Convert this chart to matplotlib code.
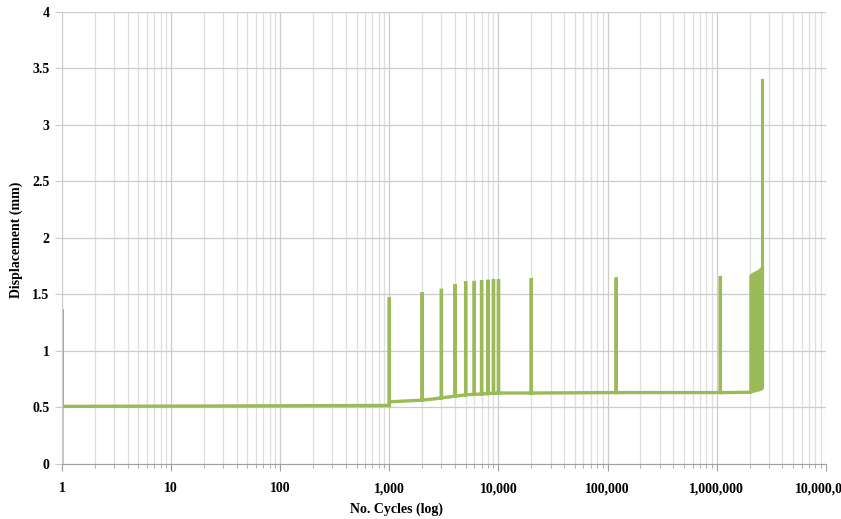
import matplotlib.pyplot as plt
import matplotlib.ticker as mticker
import numpy as np

plt.rcParams['font.family'] = 'Liberation Serif'

# baseline displacement between load blocks
base_cycles = [1, 10, 100, 1000, 1000, 2000, 2500, 3000, 4000, 5000, 7000, 10000, 20000,
               120000, 1080000, 2010000]
base_disp = [0.51, 0.512, 0.515, 0.518, 0.55, 0.565, 0.575, 0.585, 0.60, 0.612, 0.62, 0.628,
             0.628, 0.632, 0.632, 0.634]

# overload spikes
spike_cycles = [1000, 2000, 3000, 4000, 5000, 6000, 7000, 8000, 9000, 10000, 20000,
                120000, 1080000]
spike_disp = [1.475, 1.52, 1.55, 1.59, 1.615, 1.62, 1.625, 1.63, 1.635, 1.635, 1.645,
              1.65, 1.664]

# dense cycling band near failure
band_cycles = [2010000, 2100000, 2200000, 2300000, 2400000, 2500000, 2580000, 2630000]
band_low = [0.634, 0.64, 0.645, 0.65, 0.655, 0.66, 0.665, 0.675]
band_high = [1.67, 1.685, 1.695, 1.705, 1.715, 1.73, 1.745, 1.76]

# first cycle and failure
first_disp = [0.0, 1.37]
fail_cycle = 2580000
fail_disp = 3.40

green = '#9bbb59'

# build the trace: baseline with spikes up and back down
spikes = dict(zip(spike_cycles, spike_disp))
bx = np.log10(np.array(base_cycles, dtype=float))
by = np.array(base_disp)
trace_x = [1, 1]
trace_y = list(first_disp)
for c in sorted(set(base_cycles) | set(spike_cycles)):
    vals = [d for b, d in zip(base_cycles, base_disp) if b == c]
    if not vals:
        vals = [float(np.interp(np.log10(c), bx, by))]
    trace_x.append(c)
    trace_y.append(vals[0])
    if c in spikes:
        trace_x += [c, c]
        trace_y += [spikes[c], vals[-1]]
    elif len(vals) > 1:
        trace_x.append(c)
        trace_y.append(vals[-1])

fig = plt.figure(figsize=(8.41, 5.19), dpi=100)
ax = fig.add_axes([0.0737, 0.106, 0.9083, 0.871])

ax.plot(trace_x, trace_y, color=green, lw=2.4, solid_joinstyle='miter')
ax.fill_between(band_cycles, band_low, band_high, color=green, lw=1.5, edgecolor=green)
ax.plot([fail_cycle, fail_cycle], [band_high[-2], fail_disp], color=green, lw=2.2)

ax.set_xscale('log')
ax.set_xlim(1, 1e7)
ax.set_ylim(0, 4)
ax.set_yticks(np.arange(0, 4.01, 0.5))
ax.yaxis.set_major_formatter(mticker.FuncFormatter(lambda v, p: f'{v:g}'))
ax.xaxis.set_major_locator(mticker.LogLocator(base=10, numticks=10))
ax.xaxis.set_minor_locator(mticker.LogLocator(base=10, subs=np.arange(2, 10), numticks=100))
ax.xaxis.set_major_formatter(mticker.FuncFormatter(lambda v, p: f'{int(round(v)):,}'))
ax.xaxis.set_minor_formatter(mticker.NullFormatter())

ax.grid(True, which='major', color='#cccccc', lw=0.9)
ax.grid(True, which='minor', axis='x', color='#dedede', lw=0.9)
ax.set_axisbelow(True)

for s in ['top', 'right']:
    ax.spines[s].set_visible(False)
ax.spines['left'].set_color('#cccccc')
ax.spines['bottom'].set_color('#a0a0a0')

ax.tick_params(axis='x', which='major', length=5, color='#a0a0a0', pad=8)
ax.tick_params(axis='x', which='minor', length=3, color='#a0a0a0')
ax.tick_params(axis='y', length=5, color='#cccccc', pad=4)
for lab in ax.get_xticklabels() + ax.get_yticklabels():
    lab.set_fontweight('bold')
    lab.set_fontsize(10)

ax.set_xlabel('No. Cycles (log)', fontweight='bold', fontsize=10)
ax.xaxis.set_label_coords(0.438, -0.086)
ax.set_ylabel('Displacement (mm)', fontweight='bold', fontsize=10)
ax.yaxis.set_label_coords(-0.051, 0.497)

fig.savefig('out.png', dpi=100)
